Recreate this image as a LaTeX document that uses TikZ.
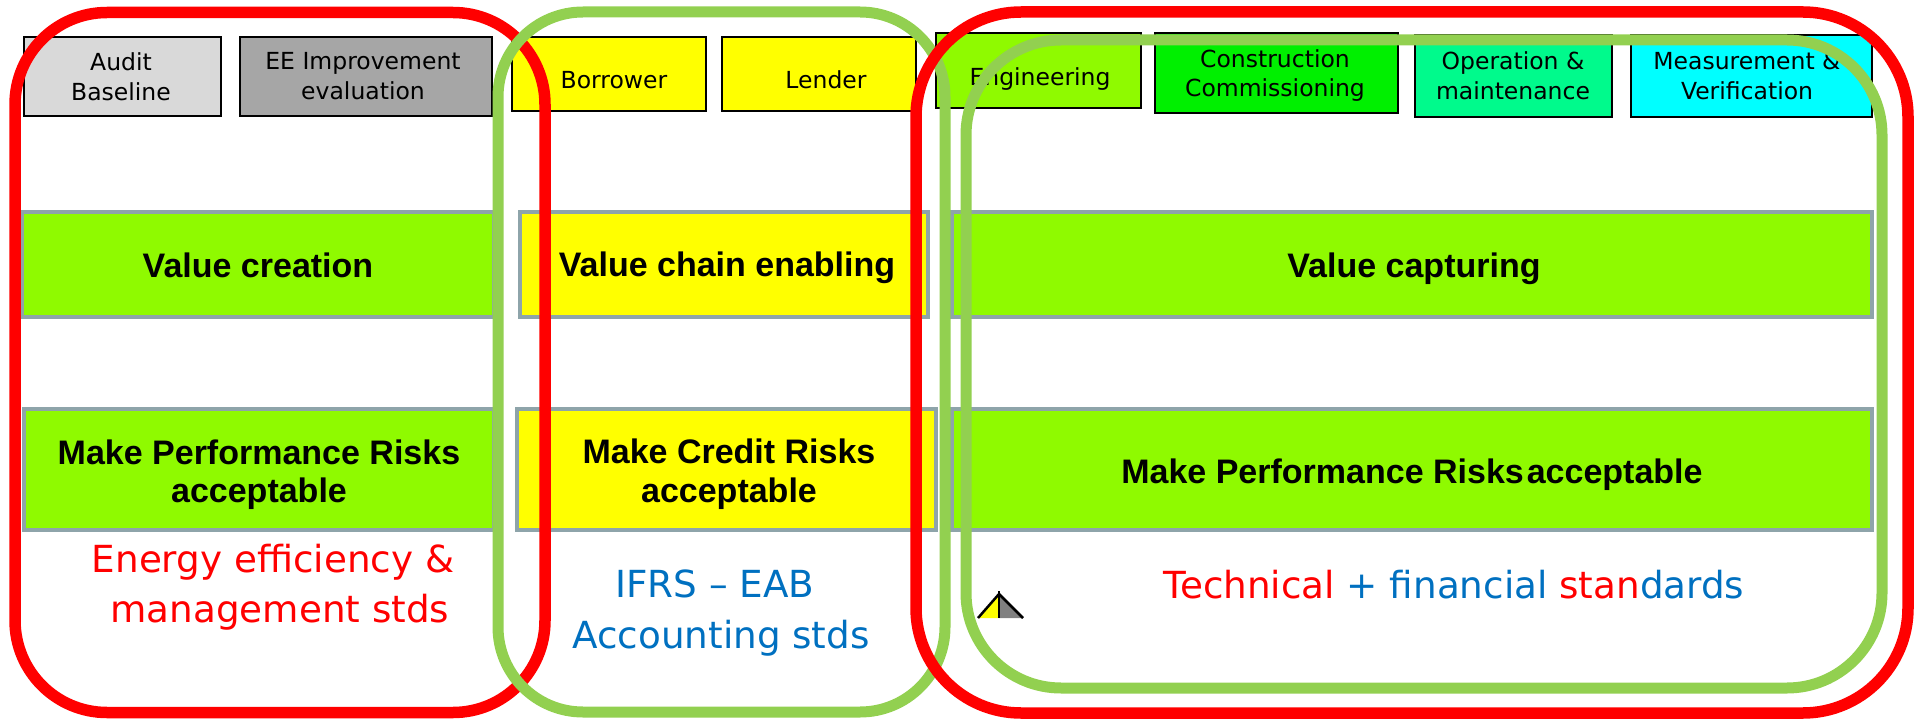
\documentclass[tikz,border=0pt]{standalone}
\usepackage{fontspec}
\newfontfamily\boxfont{Liberation Sans}
\newfontfamily\labfont{DejaVu Sans}
\definecolor{redline}{RGB}{255,0,0}
\definecolor{greenline}{RGB}{146,208,80}
\definecolor{chartreuse}{RGB}{143,250,0}
\definecolor{brightgreen}{RGB}{0,240,0}
\definecolor{mint}{RGB}{0,250,140}
\definecolor{cyanbox}{RGB}{0,255,255}
\definecolor{auditgray}{RGB}{217,217,217}
\definecolor{eegray}{RGB}{166,166,166}
\definecolor{yellowbox}{RGB}{255,255,0}
\definecolor{boxrim}{RGB}{142,164,170}
\definecolor{stdblue}{RGB}{0,112,192}
\definecolor{tentgray}{RGB}{128,128,128}
\begin{document}
\begin{tikzpicture}[x=1pt,y=-1pt,
  topbox/.style={draw=black, line width=2.5pt, inner sep=0pt, outer sep=0pt},
  toptext/.style={font=\labfont\fontsize{23.5pt}{28pt}\selectfont, anchor=base, inner sep=0pt},
  bigbox/.style={draw=boxrim, line width=4.5pt, inner sep=0pt, outer sep=0pt},
  bigtext/.style={font=\boxfont\bfseries\fontsize{34pt}{38pt}\selectfont, anchor=base, inner sep=0pt},
  stdtext/.style={font=\labfont\fontsize{37.3pt}{50pt}\selectfont, anchor=base, inner sep=0pt},
  redloop/.style={draw=redline, line width=11.5pt},
  greenloop/.style={draw=greenline, line width=11pt},
]
\useasboundingbox (0,0) rectangle (1914,719);

% top row: value chain actors
\node[topbox, fill=auditgray, minimum width=197pt, minimum height=79pt] (audit) at (122.5,76.5) {};
\node[topbox, fill=eegray, minimum width=252pt, minimum height=79pt] (ee) at (366,76.5) {};
\node[topbox, fill=yellowbox, minimum width=194pt, minimum height=74pt] (borrower) at (609,74) {};
\node[topbox, fill=yellowbox, minimum width=194pt, minimum height=74pt] (lender) at (819,74) {};
\node[topbox, fill=chartreuse, minimum width=205pt, minimum height=75pt] (engineering) at (1038.5,70.5) {};
\node[topbox, fill=brightgreen, minimum width=243pt, minimum height=80pt] (construction) at (1276.5,73) {};
\node[topbox, fill=mint, minimum width=197pt, minimum height=82pt] (operation) at (1513.5,76) {};
\node[topbox, fill=cyanbox, minimum width=241pt, minimum height=82pt] (mv) at (1751.5,76) {};

\node[toptext] (audit-a) at (121,71) {Audit};
\node[toptext] (audit-b) at (121,101) {Baseline};
\node[toptext] (ee-a) at (363,70) {EE Improvement};
\node[toptext] (ee-b) at (363,100) {evaluation};
\node[toptext] (borrower-a) at (614,89) {Borrower};
\node[toptext] (lender-a) at (826,89) {Lender};
\node[toptext] (engineering-a) at (1040,86) {Engineering};
\node[toptext] (construction-a) at (1275,68) {Construction};
\node[toptext] (construction-b) at (1275,97) {Commissioning};
\node[toptext] (operation-a) at (1513,70) {Operation \&};
\node[toptext] (operation-b) at (1513,100) {maintenance};
\node[toptext] (mv-a) at (1747,70) {Measurement \&};
\node[toptext] (mv-b) at (1747,100) {Verification};

% middle row: value roles
\node[bigbox, fill=chartreuse, minimum width=472pt, minimum height=105pt] (vcreate) at (258,264.5) {};
\node[bigbox, fill=yellowbox, minimum width=408pt, minimum height=105pt] (vchain) at (724,264.5) {};
\node[bigbox, fill=chartreuse, minimum width=920pt, minimum height=105pt] (vcapture) at (1412,264.5) {};
\node[bigtext] (vcreate-t) at (258,278) {Value creation};
\node[bigtext] (vchain-t) at (727,277) {Value chain enabling};
\node[bigtext] (vcapture-t) at (1414,278) {Value capturing};

% bottom row: risks
\node[bigbox, fill=chartreuse, minimum width=470pt, minimum height=121pt] (perfrisk) at (259,469.5) {};
\node[bigbox, fill=yellowbox, minimum width=419pt, minimum height=121pt] (credrisk) at (726.5,469.5) {};
\node[bigbox, fill=chartreuse, minimum width=920pt, minimum height=121pt] (perfrisk2) at (1412,469.5) {};
\node[bigtext] (perfrisk-a) at (259,464) {Make Performance Risks};
\node[bigtext] (perfrisk-b) at (259,502) {acceptable};
\node[bigtext] (credrisk-a) at (729,463) {Make Credit Risks};
\node[bigtext] (credrisk-b) at (729,502) {acceptable};
\node[bigtext] (perfrisk2-t) at (1412,483) {Make Performance Risks\hspace{3pt}acceptable};

% standards
\node[stdtext, text=redline] (eestd-a) at (273,572) {Energy efficiency \&};
\node[stdtext, text=redline] (eestd-b) at (280,622) {management stds};
\node[stdtext, text=stdblue] (ifrs-a) at (715,597) {IFRS – EAB};
\node[stdtext, text=stdblue] (ifrs-b) at (721,648) {Accounting stds};
\node[stdtext] (techstd) at (1454,598) {\textcolor{redline}{Technical} \textcolor{stdblue}{+ financial} \textcolor{redline}{stan}\textcolor{stdblue}{dards}};

% small tent symbol
\fill[yellowbox] (999,594) -- (978,618) -- (999,618) -- cycle;
\fill[tentgray] (999,594) -- (1023,618) -- (999,618) -- cycle;
\draw[line width=2.5pt] (978,618) -- (999,594) -- (1023,618);
\draw[line width=2.5pt] (999,591) -- (999,618);

% grouping loops
\draw[redloop, rounded corners=92pt] (15,12.5) rectangle (545,712.5);
\draw[greenloop, rounded corners=85pt] (498,12) rectangle (945,712);
\draw[redloop, rounded corners=105pt] (916,12) rectangle (1908,713);
\draw[greenloop, rounded corners=95pt] (966,40) rectangle (1882,688);
\end{tikzpicture}
\end{document}
